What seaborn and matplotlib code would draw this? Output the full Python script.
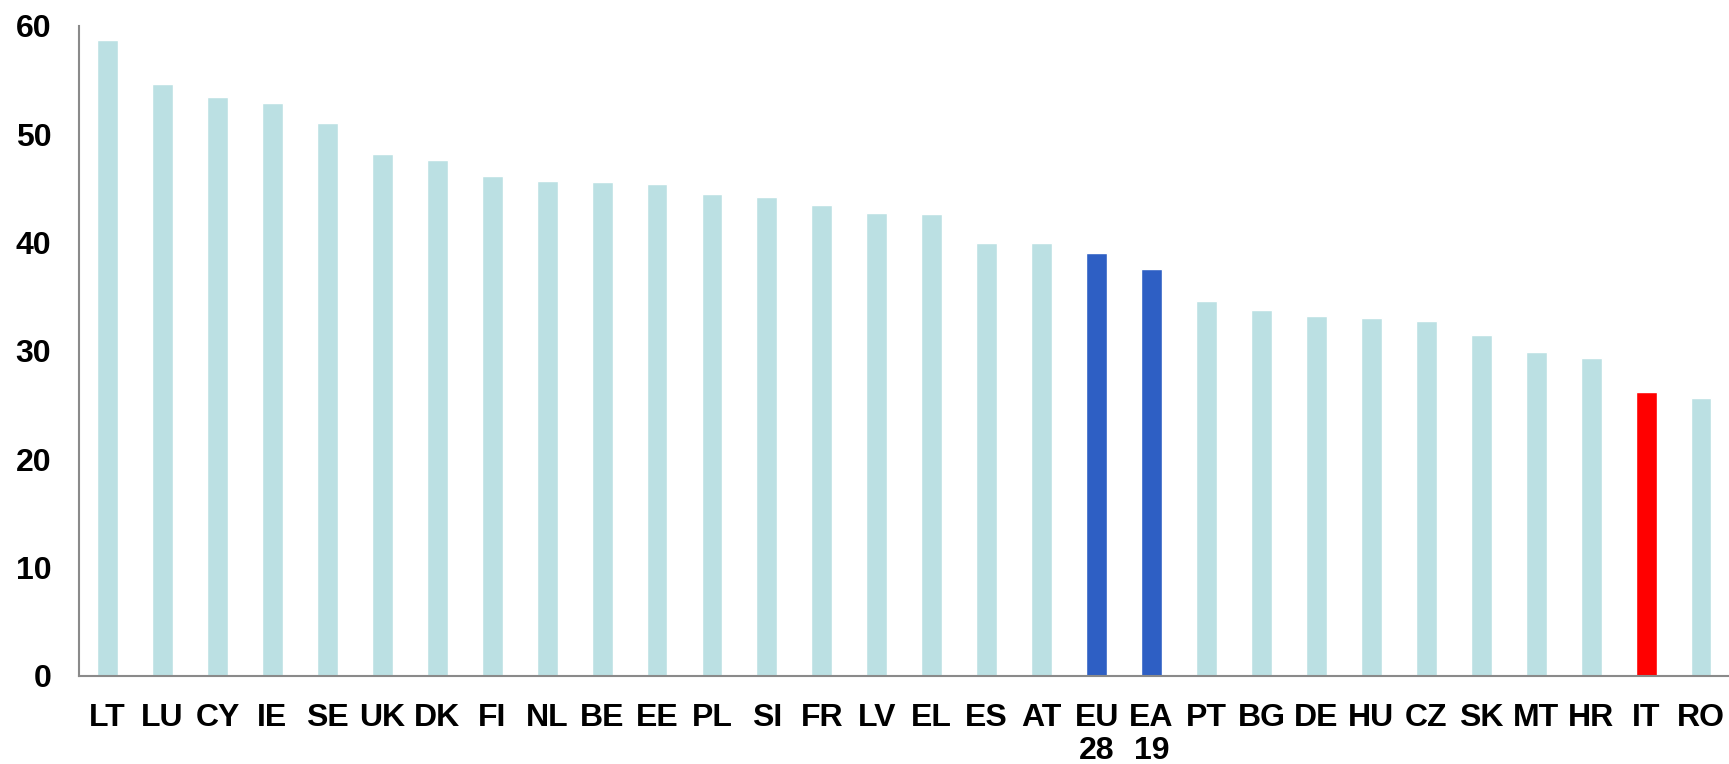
import matplotlib
matplotlib.use("Agg")
import matplotlib.pyplot as plt
import seaborn as sns
import pandas as pd

# Country codes (aggregates wrap onto two lines)
countries = ["LT", "LU", "CY", "IE", "SE", "UK", "DK", "FI", "NL", "BE",
             "EE", "PL", "SI", "FR", "LV", "EL", "ES", "AT", "EU\n28", "EA\n19",
             "PT", "BG", "DE", "HU", "CZ", "SK", "MT", "HR", "IT", "RO"]

values = [58.7, 54.6, 53.4, 52.9, 51.0, 48.2, 47.6, 46.1, 45.7, 45.6,
          45.4, 44.5, 44.2, 43.5, 42.7, 42.6, 40.0, 40.0, 39.0, 37.6,
          34.6, 33.8, 33.2, 33.0, 32.8, 31.5, 29.9, 29.3, 26.2, 25.6]

y_ticks = [0, 10, 20, 30, 40, 50, 60]

base_color = "#BBE0E3"
aggregate_color = "#2E5FC4"
highlight_color = "#FF0000"
aggregates = ["EU\n28", "EA\n19"]
highlight = ["IT"]

colors = {c: (aggregate_color if c in aggregates else
              highlight_color if c in highlight else base_color)
          for c in countries}

df = pd.DataFrame({"country": countries, "value": values})

sns.set_theme(style="white")
plt.rcParams["font.family"] = ["Liberation Sans", "DejaVu Sans"]

fig = plt.figure(figsize=(17.29, 7.64), dpi=100)
ax = fig.add_axes([0.0457, 0.1156, 0.954, 0.8504])

sns.barplot(data=df, x="country", y="value", hue="country",
            palette=colors, order=countries, width=0.38,
            saturation=1, legend=False, ax=ax)

ax.set_xlim(-0.52, len(countries) - 0.5)
ax.set_ylim(0, 60)
ax.set_yticks(y_ticks)
ax.set_yticklabels([str(t) for t in y_ticks])
ax.set_xlabel("")
ax.set_ylabel("")

for side in ["top", "right"]:
    ax.spines[side].set_visible(False)
for side in ["left", "bottom"]:
    ax.spines[side].set_color("#8A8A8A")
    ax.spines[side].set_linewidth(1.5)

ax.tick_params(axis="both", length=0)
ax.tick_params(axis="y", pad=20, labelsize=23)
ax.tick_params(axis="x", pad=19.5, labelsize=23)
for lbl in ax.get_xticklabels() + ax.get_yticklabels():
    lbl.set_fontweight("bold")
    lbl.set_color("black")
for lbl in ax.get_xticklabels():
    lbl.set_linespacing(1.15)
    lbl.set_verticalalignment("top")

fig.savefig("out.png", dpi=100)
